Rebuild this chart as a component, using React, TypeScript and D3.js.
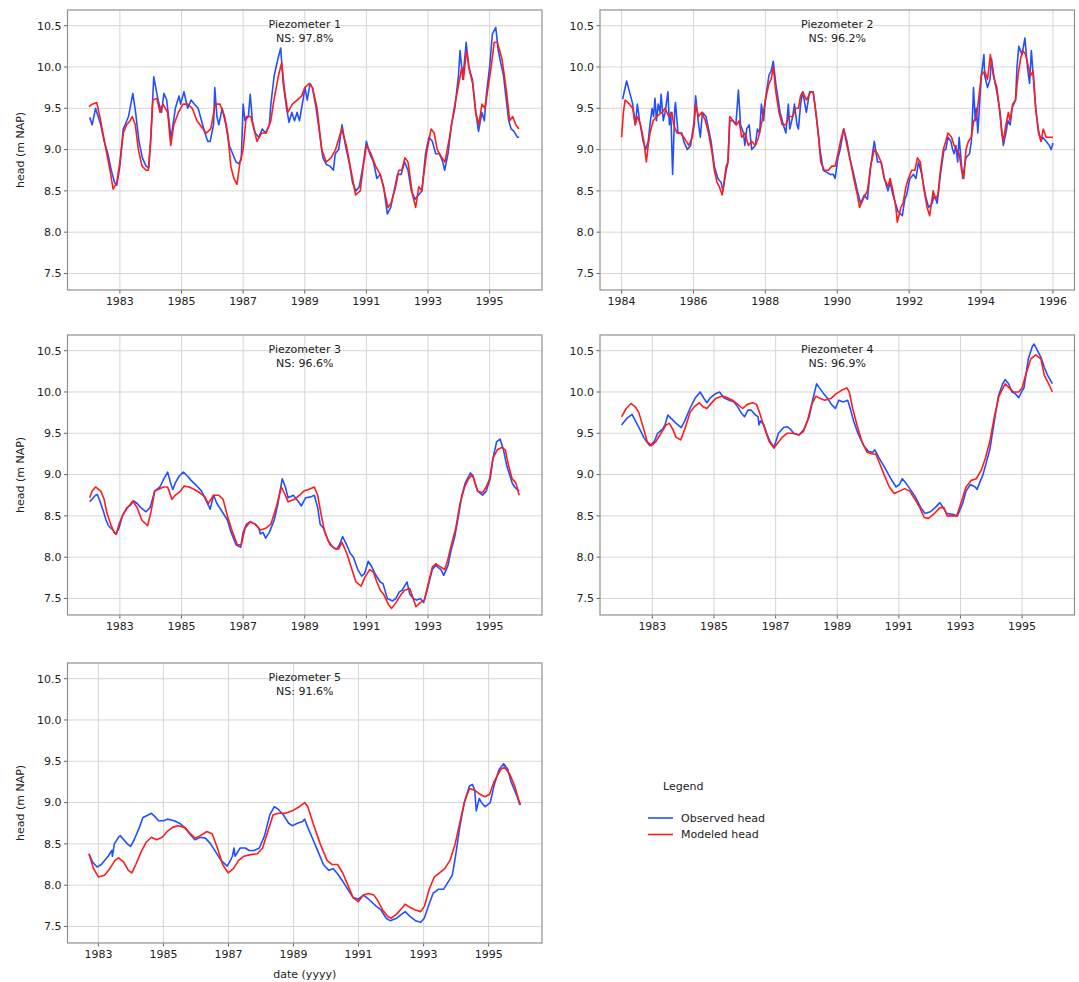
import React from "react";
import * as d3 from "d3";

type Pt = [number, number];

// Piezometer 1 (decimal year, head in m NAP)
const p1Observed: Pt[] = [
  [1982.02, 9.39], [1982.1, 9.3], [1982.21, 9.5], [1982.38, 9.3], [1982.49, 9.1], [1982.61, 8.95], [1982.72, 8.75],
  [1982.83, 8.6], [1982.9, 8.57], [1983.0, 8.8], [1983.11, 9.25], [1983.17, 9.3], [1983.28, 9.4], [1983.42, 9.68],
  [1983.51, 9.45], [1983.62, 9.1], [1983.73, 8.9], [1983.85, 8.8], [1983.94, 8.78], [1984.01, 9.2], [1984.1, 9.88],
  [1984.24, 9.6], [1984.35, 9.45], [1984.43, 9.68], [1984.52, 9.6], [1984.66, 9.13], [1984.8, 9.5], [1984.92, 9.65],
  [1984.97, 9.55], [1985.08, 9.7], [1985.2, 9.5], [1985.31, 9.6], [1985.42, 9.55], [1985.54, 9.5], [1985.65, 9.35],
  [1985.76, 9.2], [1985.85, 9.1], [1985.93, 9.1], [1986.04, 9.3], [1986.08, 9.75], [1986.15, 9.4], [1986.21, 9.3],
  [1986.32, 9.5], [1986.44, 9.3], [1986.55, 9.05], [1986.66, 8.95], [1986.77, 8.85], [1986.86, 8.83], [1986.94, 8.88],
  [1987.0, 9.55], [1987.06, 9.35], [1987.17, 9.4], [1987.23, 9.67], [1987.3, 9.35], [1987.39, 9.2], [1987.51, 9.15],
  [1987.62, 9.25], [1987.73, 9.2], [1987.85, 9.3], [1987.9, 9.55], [1988.01, 9.9], [1988.13, 10.1], [1988.22, 10.23],
  [1988.3, 9.8], [1988.41, 9.5], [1988.49, 9.33], [1988.58, 9.45], [1988.67, 9.35], [1988.75, 9.45], [1988.83, 9.35],
  [1988.92, 9.55], [1989.01, 9.75], [1989.08, 9.6], [1989.17, 9.8], [1989.25, 9.75], [1989.37, 9.5], [1989.48, 9.2],
  [1989.59, 8.9], [1989.7, 8.82], [1989.82, 8.8], [1989.93, 8.75], [1989.99, 8.95], [1990.1, 9.0], [1990.21, 9.3],
  [1990.32, 9.05], [1990.44, 8.85], [1990.55, 8.6], [1990.66, 8.5], [1990.77, 8.55], [1990.89, 8.8], [1991.0, 9.1],
  [1991.11, 8.95], [1991.23, 8.85], [1991.34, 8.65], [1991.45, 8.7], [1991.56, 8.55], [1991.68, 8.22], [1991.79, 8.3],
  [1991.9, 8.5], [1992.01, 8.7], [1992.13, 8.7], [1992.24, 8.85], [1992.35, 8.75], [1992.46, 8.5], [1992.58, 8.4],
  [1992.69, 8.45], [1992.8, 8.5], [1992.92, 8.95], [1993.03, 9.15], [1993.14, 9.1], [1993.25, 8.95], [1993.37, 8.95],
  [1993.48, 8.85], [1993.54, 8.75], [1993.65, 8.95], [1993.76, 9.3], [1993.87, 9.5], [1993.99, 9.9], [1994.04, 10.2],
  [1994.13, 9.85], [1994.24, 10.3], [1994.32, 10.0], [1994.44, 9.85], [1994.55, 9.45], [1994.64, 9.22], [1994.75, 9.45],
  [1994.83, 9.35], [1994.89, 9.65], [1995.0, 10.0], [1995.09, 10.4], [1995.2, 10.48], [1995.28, 10.2], [1995.36, 10.05],
  [1995.45, 9.9], [1995.54, 9.6], [1995.62, 9.35], [1995.7, 9.25], [1995.79, 9.22], [1995.9, 9.15], [1995.96, 9.15],
];
const p1Modeled: Pt[] = [
  [1982.0, 9.52], [1982.1, 9.55], [1982.25, 9.57], [1982.35, 9.4], [1982.45, 9.2], [1982.55, 9.0], [1982.68, 8.75],
  [1982.78, 8.52], [1982.9, 8.6], [1983.0, 8.85], [1983.11, 9.2], [1983.22, 9.3], [1983.33, 9.35], [1983.4, 9.4],
  [1983.5, 9.3], [1983.6, 9.0], [1983.72, 8.8], [1983.85, 8.75], [1983.92, 8.75], [1984.0, 9.1], [1984.07, 9.6],
  [1984.2, 9.62], [1984.3, 9.45], [1984.4, 9.55], [1984.55, 9.45], [1984.65, 9.05], [1984.75, 9.3], [1984.9, 9.45],
  [1985.05, 9.55], [1985.2, 9.55], [1985.35, 9.5], [1985.5, 9.35], [1985.6, 9.3], [1985.7, 9.25], [1985.8, 9.2],
  [1985.95, 9.25], [1986.1, 9.55], [1986.25, 9.55], [1986.4, 9.4], [1986.5, 9.2], [1986.6, 8.8], [1986.7, 8.65],
  [1986.8, 8.58], [1986.9, 8.85], [1987.0, 9.0], [1987.1, 9.4], [1987.25, 9.4], [1987.35, 9.25], [1987.45, 9.1],
  [1987.6, 9.2], [1987.75, 9.2], [1987.9, 9.35], [1988.0, 9.6], [1988.15, 9.9], [1988.25, 10.05], [1988.35, 9.7],
  [1988.45, 9.45], [1988.6, 9.55], [1988.75, 9.6], [1988.9, 9.65], [1989.0, 9.75], [1989.15, 9.8], [1989.25, 9.75],
  [1989.4, 9.5], [1989.55, 9.0], [1989.7, 8.85], [1989.85, 8.9], [1990.0, 9.0], [1990.2, 9.25], [1990.35, 9.05],
  [1990.5, 8.75], [1990.65, 8.45], [1990.8, 8.5], [1990.9, 8.8], [1991.0, 9.05], [1991.15, 8.95], [1991.3, 8.8],
  [1991.45, 8.7], [1991.55, 8.55], [1991.7, 8.3], [1991.8, 8.35], [1991.95, 8.55], [1992.05, 8.75], [1992.15, 8.75],
  [1992.25, 8.9], [1992.35, 8.85], [1992.5, 8.45], [1992.6, 8.3], [1992.7, 8.55], [1992.8, 8.5], [1992.95, 8.95],
  [1993.1, 9.25], [1993.2, 9.2], [1993.3, 9.0], [1993.45, 8.9], [1993.55, 8.85], [1993.7, 9.15], [1993.85, 9.5],
  [1994.0, 9.8], [1994.1, 10.0], [1994.15, 9.85], [1994.25, 10.2], [1994.35, 9.95], [1994.45, 9.8], [1994.55, 9.45],
  [1994.65, 9.3], [1994.75, 9.55], [1994.85, 9.5], [1994.95, 9.75], [1995.05, 10.0], [1995.15, 10.3], [1995.25, 10.3],
  [1995.4, 10.1], [1995.55, 9.7], [1995.65, 9.35], [1995.75, 9.4], [1995.85, 9.3], [1995.95, 9.25],
];

// Piezometer 2
const p2Observed: Pt[] = [
  [1984.03, 9.61], [1984.14, 9.83], [1984.25, 9.65], [1984.31, 9.55], [1984.38, 9.3], [1984.44, 9.55], [1984.5, 9.35],
  [1984.6, 9.1], [1984.67, 9.0], [1984.74, 9.1], [1984.79, 9.3], [1984.85, 9.5], [1984.89, 9.4], [1984.93, 9.62],
  [1984.97, 9.35], [1985.02, 9.55], [1985.07, 9.45], [1985.1, 9.67], [1985.16, 9.35], [1985.21, 9.45], [1985.29, 9.7],
  [1985.33, 9.3], [1985.37, 9.45], [1985.42, 8.7], [1985.48, 9.5], [1985.5, 9.57], [1985.57, 9.2], [1985.68, 9.2],
  [1985.73, 9.1], [1985.83, 9.0], [1985.92, 9.05], [1985.97, 9.2], [1986.02, 9.35], [1986.06, 9.65], [1986.13, 9.35],
  [1986.19, 9.15], [1986.25, 9.45], [1986.35, 9.4], [1986.49, 9.1], [1986.58, 8.8], [1986.68, 8.65], [1986.77, 8.6],
  [1986.82, 8.5], [1986.91, 8.75], [1986.96, 8.85], [1987.01, 9.35], [1987.1, 9.35], [1987.18, 9.3], [1987.25, 9.72],
  [1987.31, 9.3], [1987.39, 9.2], [1987.43, 9.05], [1987.48, 9.25], [1987.55, 9.3], [1987.62, 9.0], [1987.72, 9.05],
  [1987.78, 9.25], [1987.84, 9.2], [1987.89, 9.55], [1987.95, 9.35], [1988.0, 9.6], [1988.1, 9.9], [1988.16, 9.95],
  [1988.22, 10.07], [1988.29, 9.8], [1988.41, 9.45], [1988.5, 9.3], [1988.57, 9.2], [1988.64, 9.55], [1988.68, 9.25],
  [1988.76, 9.4], [1988.81, 9.55], [1988.88, 9.3], [1988.92, 9.25], [1988.98, 9.55], [1989.04, 9.7], [1989.14, 9.45],
  [1989.23, 9.7], [1989.33, 9.7], [1989.42, 9.4], [1989.52, 9.0], [1989.61, 8.75], [1989.8, 8.7], [1989.89, 8.7],
  [1989.94, 8.65], [1990.02, 8.9], [1990.08, 9.0], [1990.18, 9.25], [1990.27, 9.1], [1990.35, 8.9], [1990.46, 8.7],
  [1990.56, 8.5], [1990.65, 8.35], [1990.75, 8.45], [1990.84, 8.4], [1990.93, 8.8], [1991.03, 9.1], [1991.12, 8.85],
  [1991.22, 8.85], [1991.31, 8.65], [1991.41, 8.5], [1991.47, 8.6], [1991.55, 8.45], [1991.69, 8.25], [1991.81, 8.2],
  [1991.88, 8.4], [1991.93, 8.45], [1992.02, 8.65], [1992.12, 8.7], [1992.19, 8.65], [1992.26, 8.85], [1992.35, 8.7],
  [1992.45, 8.45], [1992.54, 8.3], [1992.64, 8.35], [1992.7, 8.45], [1992.78, 8.35], [1992.87, 8.7], [1992.97, 9.0],
  [1993.02, 9.0], [1993.08, 9.15], [1993.16, 9.1], [1993.21, 9.0], [1993.25, 8.95], [1993.3, 9.05], [1993.35, 8.85],
  [1993.39, 9.15], [1993.49, 8.65], [1993.58, 8.9], [1993.68, 8.95], [1993.73, 9.1], [1993.77, 9.5], [1993.79, 9.75],
  [1993.84, 9.35], [1993.87, 9.5], [1993.91, 9.2], [1993.98, 9.7], [1994.01, 9.9], [1994.08, 10.15], [1994.1, 9.9],
  [1994.18, 9.75], [1994.25, 9.85], [1994.29, 10.1], [1994.37, 9.85], [1994.44, 9.7], [1994.53, 9.45], [1994.58, 9.2],
  [1994.62, 9.05], [1994.69, 9.2], [1994.75, 9.35], [1994.81, 9.3], [1994.86, 9.5], [1994.96, 9.6], [1995.0, 10.0],
  [1995.05, 10.25], [1995.14, 10.15], [1995.22, 10.35], [1995.29, 10.0], [1995.35, 9.8], [1995.4, 10.2], [1995.45, 9.9],
  [1995.52, 9.5], [1995.59, 9.25], [1995.67, 9.1], [1995.71, 9.15], [1995.81, 9.1], [1995.9, 9.05], [1995.95, 9.0],
  [1996.0, 9.08],
];
const p2Modeled: Pt[] = [
  [1984.0, 9.15], [1984.05, 9.45], [1984.1, 9.6], [1984.22, 9.55], [1984.31, 9.5], [1984.38, 9.3], [1984.44, 9.4],
  [1984.53, 9.3], [1984.62, 9.1], [1984.69, 8.85], [1984.74, 9.05], [1984.79, 9.2], [1984.88, 9.35], [1984.97, 9.4],
  [1985.12, 9.45], [1985.21, 9.5], [1985.31, 9.4], [1985.4, 9.45], [1985.45, 9.3], [1985.54, 9.2], [1985.64, 9.2],
  [1985.73, 9.15], [1985.87, 9.05], [1985.97, 9.15], [1986.02, 9.3], [1986.06, 9.55], [1986.14, 9.4], [1986.23, 9.45],
  [1986.33, 9.35], [1986.42, 9.2], [1986.52, 8.95], [1986.58, 8.75], [1986.66, 8.6], [1986.72, 8.55], [1986.8, 8.45],
  [1986.91, 8.8], [1986.96, 8.85], [1987.01, 9.4], [1987.1, 9.35], [1987.2, 9.3], [1987.27, 9.35], [1987.34, 9.15],
  [1987.43, 9.2], [1987.53, 9.05], [1987.62, 9.1], [1987.72, 9.05], [1987.81, 9.15], [1987.91, 9.35], [1988.0, 9.6],
  [1988.1, 9.8], [1988.16, 9.85], [1988.22, 10.0], [1988.29, 9.7], [1988.38, 9.45], [1988.47, 9.3], [1988.57, 9.3],
  [1988.66, 9.4], [1988.76, 9.4], [1988.85, 9.5], [1988.92, 9.5], [1988.98, 9.65], [1989.04, 9.7], [1989.14, 9.6],
  [1989.26, 9.7], [1989.33, 9.7], [1989.39, 9.5], [1989.47, 9.2], [1989.54, 8.85], [1989.64, 8.75], [1989.75, 8.75],
  [1989.85, 8.8], [1989.94, 8.8], [1990.02, 8.95], [1990.09, 9.1], [1990.18, 9.25], [1990.27, 9.05], [1990.37, 8.85],
  [1990.46, 8.65], [1990.56, 8.45], [1990.62, 8.3], [1990.72, 8.4], [1990.84, 8.5], [1990.93, 8.8], [1991.03, 9.0],
  [1991.12, 8.95], [1991.22, 8.85], [1991.31, 8.65], [1991.41, 8.55], [1991.47, 8.65], [1991.55, 8.5], [1991.63, 8.3],
  [1991.67, 8.12], [1991.77, 8.3], [1991.83, 8.35], [1991.91, 8.55], [1991.98, 8.65], [1992.07, 8.75], [1992.16, 8.75],
  [1992.23, 8.9], [1992.31, 8.85], [1992.4, 8.55], [1992.5, 8.3], [1992.57, 8.2], [1992.67, 8.5], [1992.73, 8.4],
  [1992.8, 8.45], [1992.87, 8.75], [1992.95, 9.0], [1993.02, 9.1], [1993.08, 9.2], [1993.18, 9.15], [1993.25, 9.05],
  [1993.33, 9.0], [1993.39, 8.95], [1993.46, 8.75], [1993.52, 8.65], [1993.58, 9.0], [1993.65, 9.1], [1993.73, 9.15],
  [1993.8, 9.35], [1993.87, 9.4], [1993.93, 9.6], [1994.01, 9.9], [1994.1, 9.95], [1994.18, 9.85], [1994.26, 10.15],
  [1994.34, 9.9], [1994.44, 9.75], [1994.51, 9.5], [1994.58, 9.2], [1994.62, 9.1], [1994.69, 9.3], [1994.76, 9.45],
  [1994.81, 9.35], [1994.88, 9.55], [1994.96, 9.6], [1995.03, 9.9], [1995.1, 10.1], [1995.16, 10.2], [1995.24, 10.15],
  [1995.32, 10.0], [1995.38, 9.9], [1995.45, 9.95], [1995.52, 9.5], [1995.6, 9.2], [1995.67, 9.1], [1995.73, 9.25],
  [1995.81, 9.15], [1995.88, 9.15], [1996.0, 9.15],
];

// Piezometer 3
const p3Observed: Pt[] = [
  [1982.02, 8.67], [1982.21, 8.75], [1982.27, 8.76], [1982.38, 8.65], [1982.47, 8.55], [1982.55, 8.45], [1982.63, 8.38],
  [1982.77, 8.33], [1982.86, 8.28], [1982.97, 8.35], [1983.08, 8.5], [1983.23, 8.6], [1983.34, 8.63], [1983.45, 8.68],
  [1983.56, 8.65], [1983.68, 8.6], [1983.85, 8.55], [1983.98, 8.6], [1984.13, 8.8], [1984.3, 8.85], [1984.43, 8.95],
  [1984.55, 9.03], [1984.66, 8.88], [1984.72, 8.82], [1984.8, 8.9], [1984.92, 8.98], [1985.06, 9.03], [1985.2, 8.98],
  [1985.31, 8.93], [1985.48, 8.87], [1985.65, 8.8], [1985.78, 8.7], [1985.93, 8.58], [1986.04, 8.75], [1986.15, 8.65],
  [1986.32, 8.55], [1986.49, 8.45], [1986.61, 8.3], [1986.77, 8.15], [1986.92, 8.12], [1987.0, 8.3], [1987.11, 8.4],
  [1987.23, 8.43], [1987.39, 8.4], [1987.51, 8.35], [1987.56, 8.28], [1987.65, 8.3], [1987.73, 8.23], [1987.85, 8.3],
  [1988.01, 8.45], [1988.13, 8.65], [1988.27, 8.95], [1988.37, 8.85], [1988.46, 8.72], [1988.63, 8.75], [1988.78, 8.68],
  [1988.89, 8.62], [1989.03, 8.72], [1989.2, 8.73], [1989.31, 8.75], [1989.42, 8.6], [1989.5, 8.4], [1989.61, 8.35],
  [1989.76, 8.2], [1989.91, 8.12], [1990.04, 8.1], [1990.13, 8.15], [1990.23, 8.25], [1990.36, 8.15], [1990.47, 8.05],
  [1990.58, 8.0], [1990.72, 7.85], [1990.85, 7.77], [1990.94, 7.8], [1991.06, 7.95], [1991.15, 7.9], [1991.28, 7.8],
  [1991.45, 7.7], [1991.54, 7.68], [1991.68, 7.5], [1991.85, 7.47], [1991.96, 7.5], [1992.07, 7.58], [1992.16, 7.6],
  [1992.32, 7.7], [1992.41, 7.55], [1992.52, 7.5], [1992.63, 7.48], [1992.75, 7.5], [1992.86, 7.45], [1992.97, 7.6],
  [1993.14, 7.85], [1993.25, 7.9], [1993.42, 7.85], [1993.51, 7.78], [1993.65, 7.9], [1993.76, 8.1], [1993.87, 8.25],
  [1993.99, 8.5], [1994.1, 8.75], [1994.21, 8.9], [1994.38, 9.02], [1994.46, 8.98], [1994.61, 8.8], [1994.77, 8.75],
  [1994.89, 8.8], [1995.02, 8.95], [1995.11, 9.2], [1995.23, 9.4], [1995.34, 9.43], [1995.45, 9.3], [1995.56, 9.1],
  [1995.73, 8.9], [1995.81, 8.85], [1995.96, 8.8],
];
const p3Modeled: Pt[] = [
  [1982.02, 8.72], [1982.1, 8.8], [1982.21, 8.85], [1982.38, 8.8], [1982.49, 8.7], [1982.57, 8.55], [1982.7, 8.4],
  [1982.81, 8.3], [1982.89, 8.28], [1982.97, 8.4], [1983.11, 8.52], [1983.25, 8.6], [1983.42, 8.68], [1983.56, 8.6],
  [1983.71, 8.45], [1983.9, 8.38], [1984.01, 8.55], [1984.13, 8.8], [1984.24, 8.82], [1984.41, 8.85], [1984.55, 8.85],
  [1984.69, 8.7], [1984.8, 8.75], [1984.97, 8.8], [1985.08, 8.86], [1985.25, 8.85], [1985.42, 8.82], [1985.59, 8.78],
  [1985.76, 8.73], [1985.87, 8.65], [1986.04, 8.75], [1986.21, 8.75], [1986.35, 8.7], [1986.49, 8.5], [1986.66, 8.3],
  [1986.81, 8.15], [1986.94, 8.15], [1987.06, 8.35], [1987.23, 8.43], [1987.39, 8.4], [1987.56, 8.33], [1987.73, 8.35],
  [1987.9, 8.4], [1988.07, 8.6], [1988.24, 8.85], [1988.37, 8.75], [1988.46, 8.67], [1988.67, 8.7], [1988.83, 8.75],
  [1988.97, 8.8], [1989.12, 8.82], [1989.31, 8.85], [1989.42, 8.75], [1989.54, 8.5], [1989.65, 8.3], [1989.82, 8.15],
  [1989.99, 8.1], [1990.1, 8.1], [1990.21, 8.18], [1990.36, 8.05], [1990.49, 7.9], [1990.66, 7.7], [1990.83, 7.65],
  [1990.94, 7.75], [1991.11, 7.85], [1991.23, 7.82], [1991.34, 7.7], [1991.45, 7.6], [1991.56, 7.55], [1991.73, 7.42],
  [1991.82, 7.38], [1991.96, 7.45], [1992.13, 7.55], [1992.24, 7.6], [1992.41, 7.62], [1992.52, 7.5], [1992.61, 7.4],
  [1992.75, 7.45], [1992.88, 7.48], [1992.99, 7.65], [1993.14, 7.88], [1993.25, 7.92], [1993.42, 7.88], [1993.54, 7.85],
  [1993.63, 7.95], [1993.76, 8.15], [1993.9, 8.35], [1994.04, 8.65], [1994.19, 8.85], [1994.32, 8.95], [1994.44, 9.0],
  [1994.61, 8.8], [1994.77, 8.78], [1994.89, 8.85], [1995.0, 8.95], [1995.11, 9.2], [1995.25, 9.3], [1995.39, 9.33],
  [1995.51, 9.3], [1995.62, 9.1], [1995.73, 8.95], [1995.85, 8.9], [1995.96, 8.75],
];

// Piezometer 4
const p4Observed: Pt[] = [
  [1982.0, 9.6], [1982.17, 9.68], [1982.34, 9.73], [1982.45, 9.65], [1982.59, 9.55], [1982.72, 9.45], [1982.81, 9.4],
  [1982.92, 9.35], [1983.06, 9.4], [1983.17, 9.5], [1983.33, 9.55], [1983.41, 9.6], [1983.5, 9.72], [1983.61, 9.68],
  [1983.77, 9.62], [1983.94, 9.57], [1984.05, 9.65], [1984.22, 9.8], [1984.38, 9.92], [1984.55, 10.0], [1984.66, 9.93],
  [1984.77, 9.87], [1984.88, 9.93], [1985.05, 9.98], [1985.18, 10.0], [1985.32, 9.93], [1985.49, 9.9], [1985.65, 9.88],
  [1985.77, 9.82], [1985.88, 9.75], [1985.99, 9.7], [1986.1, 9.78], [1986.21, 9.78], [1986.35, 9.72], [1986.43, 9.7],
  [1986.46, 9.6], [1986.51, 9.65], [1986.62, 9.6], [1986.71, 9.5], [1986.82, 9.4], [1986.95, 9.33], [1987.09, 9.5],
  [1987.26, 9.57], [1987.37, 9.58], [1987.48, 9.55], [1987.59, 9.5], [1987.76, 9.48], [1987.92, 9.55], [1988.09, 9.7],
  [1988.2, 9.9], [1988.33, 10.1], [1988.42, 10.05], [1988.56, 9.98], [1988.67, 9.93], [1988.81, 9.85], [1988.94, 9.8],
  [1989.05, 9.9], [1989.19, 9.88], [1989.34, 9.9], [1989.42, 9.8], [1989.53, 9.65], [1989.67, 9.5], [1989.86, 9.35],
  [1990.02, 9.28], [1990.16, 9.27], [1990.22, 9.3], [1990.36, 9.2], [1990.52, 9.1], [1990.74, 8.95], [1990.91, 8.85],
  [1991.02, 8.88], [1991.11, 8.95], [1991.22, 8.9], [1991.41, 8.8], [1991.55, 8.72], [1991.71, 8.6], [1991.85, 8.53],
  [1992.02, 8.55], [1992.18, 8.6], [1992.33, 8.66], [1992.44, 8.6], [1992.55, 8.53], [1992.73, 8.52], [1992.9, 8.5],
  [1993.07, 8.65], [1993.18, 8.8], [1993.32, 8.88], [1993.48, 8.85], [1993.54, 8.82], [1993.62, 8.9], [1993.73, 9.0],
  [1993.95, 9.3], [1994.1, 9.65], [1994.23, 9.95], [1994.37, 10.1], [1994.45, 10.15], [1994.56, 10.1], [1994.67, 10.0],
  [1994.78, 9.98], [1994.89, 9.93], [1994.98, 10.0], [1995.06, 10.05], [1995.2, 10.4], [1995.33, 10.55], [1995.39, 10.58],
  [1995.5, 10.5], [1995.61, 10.42], [1995.72, 10.3], [1995.83, 10.2], [1995.98, 10.1],
];
const p4Modeled: Pt[] = [
  [1982.0, 9.7], [1982.15, 9.8], [1982.31, 9.86], [1982.45, 9.82], [1982.56, 9.75], [1982.72, 9.55], [1982.83, 9.4],
  [1982.97, 9.35], [1983.11, 9.4], [1983.28, 9.5], [1983.44, 9.6], [1983.55, 9.62], [1983.66, 9.55], [1983.77, 9.45],
  [1983.92, 9.42], [1984.05, 9.55], [1984.22, 9.75], [1984.38, 9.83], [1984.53, 9.87], [1984.64, 9.82], [1984.77, 9.8],
  [1984.88, 9.85], [1985.05, 9.92], [1985.27, 9.95], [1985.43, 9.93], [1985.6, 9.9], [1985.77, 9.85], [1985.93, 9.8],
  [1986.08, 9.85], [1986.26, 9.87], [1986.38, 9.85], [1986.48, 9.75], [1986.65, 9.55], [1986.79, 9.4], [1986.95, 9.32],
  [1987.06, 9.38], [1987.21, 9.45], [1987.37, 9.5], [1987.54, 9.5], [1987.76, 9.48], [1987.9, 9.52], [1988.03, 9.65],
  [1988.17, 9.85], [1988.31, 9.95], [1988.45, 9.92], [1988.59, 9.9], [1988.79, 9.92], [1988.97, 9.98], [1989.14, 10.02],
  [1989.31, 10.05], [1989.39, 10.0], [1989.5, 9.8], [1989.64, 9.6], [1989.8, 9.4], [1989.97, 9.27], [1990.14, 9.25],
  [1990.25, 9.25], [1990.36, 9.15], [1990.52, 9.0], [1990.69, 8.85], [1990.85, 8.77], [1991.02, 8.8], [1991.19, 8.83],
  [1991.35, 8.8], [1991.52, 8.7], [1991.68, 8.6], [1991.82, 8.48], [1991.96, 8.47], [1992.13, 8.52], [1992.33, 8.6],
  [1992.46, 8.6], [1992.57, 8.5], [1992.73, 8.5], [1992.88, 8.5], [1993.01, 8.65], [1993.18, 8.85], [1993.35, 8.93],
  [1993.51, 8.95], [1993.67, 9.05], [1993.81, 9.2], [1993.95, 9.4], [1994.1, 9.7], [1994.25, 9.95], [1994.45, 10.1],
  [1994.58, 10.05], [1994.73, 10.0], [1994.89, 10.0], [1995.0, 10.05], [1995.11, 10.2], [1995.28, 10.4], [1995.44, 10.45],
  [1995.61, 10.4], [1995.72, 10.2], [1995.86, 10.1], [1995.98, 10.0],
];

// Piezometer 5
const p5Observed: Pt[] = [
  [1982.71, 8.38], [1982.82, 8.28], [1982.96, 8.22], [1983.09, 8.25], [1983.19, 8.3], [1983.3, 8.35], [1983.41, 8.42],
  [1983.43, 8.35], [1983.49, 8.5], [1983.62, 8.58], [1983.67, 8.6], [1983.78, 8.55], [1983.89, 8.5], [1983.99, 8.47],
  [1984.1, 8.55], [1984.26, 8.7], [1984.37, 8.82], [1984.53, 8.85], [1984.63, 8.87], [1984.74, 8.83], [1984.85, 8.78],
  [1985.01, 8.78], [1985.12, 8.8], [1985.33, 8.78], [1985.49, 8.75], [1985.65, 8.7], [1985.81, 8.62], [1985.97, 8.55],
  [1986.13, 8.58], [1986.29, 8.57], [1986.45, 8.5], [1986.61, 8.4], [1986.77, 8.3], [1986.96, 8.23], [1987.06, 8.3],
  [1987.12, 8.35], [1987.17, 8.45], [1987.2, 8.35], [1987.36, 8.45], [1987.52, 8.45], [1987.63, 8.42], [1987.79, 8.42],
  [1987.95, 8.45], [1988.11, 8.6], [1988.27, 8.85], [1988.41, 8.95], [1988.53, 8.92], [1988.69, 8.85], [1988.85, 8.75],
  [1988.96, 8.72], [1989.12, 8.75], [1989.28, 8.77], [1989.34, 8.8], [1989.44, 8.7], [1989.6, 8.55], [1989.76, 8.4],
  [1989.92, 8.25], [1990.08, 8.18], [1990.22, 8.2], [1990.33, 8.15], [1990.51, 8.05], [1990.67, 7.95], [1990.83, 7.85],
  [1990.99, 7.83], [1991.15, 7.88], [1991.31, 7.83], [1991.53, 7.75], [1991.69, 7.7], [1991.85, 7.6], [1991.97, 7.57],
  [1992.17, 7.6], [1992.33, 7.65], [1992.43, 7.68], [1992.59, 7.62], [1992.75, 7.57], [1992.91, 7.55], [1993.02, 7.6],
  [1993.15, 7.75], [1993.29, 7.9], [1993.45, 7.95], [1993.61, 7.95], [1993.77, 8.05], [1993.88, 8.12], [1993.98, 8.35],
  [1994.11, 8.7], [1994.25, 9.0], [1994.41, 9.2], [1994.5, 9.22], [1994.57, 9.15], [1994.62, 8.9], [1994.71, 9.05],
  [1994.78, 9.0], [1994.89, 8.95], [1995.05, 9.0], [1995.16, 9.2], [1995.32, 9.4], [1995.46, 9.47], [1995.59, 9.4],
  [1995.69, 9.25], [1995.85, 9.1], [1995.96, 8.97],
];
const p5Modeled: Pt[] = [
  [1982.71, 8.38], [1982.85, 8.2], [1983.0, 8.1], [1983.19, 8.12], [1983.35, 8.2], [1983.51, 8.3], [1983.62, 8.33],
  [1983.78, 8.28], [1983.92, 8.18], [1984.03, 8.15], [1984.15, 8.25], [1984.31, 8.4], [1984.47, 8.52], [1984.63, 8.58],
  [1984.79, 8.55], [1984.96, 8.58], [1985.12, 8.65], [1985.28, 8.7], [1985.44, 8.72], [1985.65, 8.7], [1985.81, 8.63],
  [1985.97, 8.57], [1986.13, 8.6], [1986.34, 8.65], [1986.5, 8.62], [1986.66, 8.45], [1986.82, 8.25], [1986.99, 8.15],
  [1987.15, 8.2], [1987.31, 8.3], [1987.47, 8.35], [1987.68, 8.37], [1987.89, 8.38], [1988.05, 8.45], [1988.21, 8.65],
  [1988.37, 8.85], [1988.53, 8.87], [1988.75, 8.87], [1988.96, 8.9], [1989.18, 8.95], [1989.34, 9.0], [1989.44, 8.95],
  [1989.6, 8.75], [1989.82, 8.5], [1990.03, 8.3], [1990.19, 8.25], [1990.35, 8.25], [1990.51, 8.15], [1990.67, 8.0],
  [1990.83, 7.85], [1990.99, 7.8], [1991.15, 7.88], [1991.31, 7.9], [1991.47, 7.88], [1991.58, 7.82], [1991.74, 7.7],
  [1991.9, 7.62], [1992.01, 7.6], [1992.17, 7.65], [1992.33, 7.72], [1992.43, 7.77], [1992.59, 7.73], [1992.75, 7.7],
  [1992.91, 7.68], [1993.03, 7.75], [1993.17, 7.95], [1993.33, 8.1], [1993.49, 8.15], [1993.65, 8.2], [1993.81, 8.3],
  [1993.97, 8.5], [1994.11, 8.75], [1994.25, 9.0], [1994.41, 9.17], [1994.57, 9.15], [1994.73, 9.1], [1994.89, 9.07],
  [1995.03, 9.1], [1995.16, 9.25], [1995.37, 9.4], [1995.48, 9.43], [1995.64, 9.35], [1995.8, 9.2], [1995.91, 9.05],
  [1995.98, 8.97],
];

const panelTitles = ["Piezometer 1", "Piezometer 2", "Piezometer 3", "Piezometer 4", "Piezometer 5"];
const nsScores = ["NS: 97.8%", "NS: 96.2%", "NS: 96.6%", "NS: 96.9%", "NS: 91.6%"];
const headTicks = [7.5, 8.0, 8.5, 9.0, 9.5, 10.0, 10.5];
const oddYearTicks = [1983, 1985, 1987, 1989, 1991, 1993, 1995];
const evenYearTicks = [1984, 1986, 1988, 1990, 1992, 1994, 1996];
const headDomain: [number, number] = [7.3, 10.69];
const legendTitle = "Legend";
const seriesLabels = ["Observed head", "Modeled head"];

const OBS_COLOR = "#2250ff";
const MOD_COLOR = "#ff1c1c";
const FONT = "'DejaVu Sans', sans-serif";
const TEXT = "#222";
const FS = 11;

type PanelProps = {
  left: number;
  top: number;
  width: number;
  height: number;
  xDomain: [number, number];
  xTicks: number[];
  observed: Pt[];
  modeled: Pt[];
  title: string;
  ns: string;
  yLabel: boolean;
  xLabel: boolean;
};

function Panel(p: PanelProps) {
  const x = d3.scaleLinear().domain(p.xDomain).range([p.left, p.left + p.width]);
  const y = d3.scaleLinear().domain(headDomain).range([p.top + p.height, p.top]);
  const line = d3
    .line<Pt>()
    .x((d) => x(d[0]))
    .y((d) => y(d[1]));
  const cx = p.left + p.width / 2;
  const bottom = p.top + p.height;
  return (
    <g>
      <rect x={p.left} y={p.top} width={p.width} height={p.height} fill="#fff" />
      {headTicks.map((t) => (
        <g key={"y" + t}>
          <line x1={p.left} x2={p.left + p.width} y1={y(t)} y2={y(t)} stroke="#d6d6d6" strokeWidth={1} />
          <line x1={p.left - 3.5} x2={p.left} y1={y(t)} y2={y(t)} stroke="#555" strokeWidth={0.9} />
          <text x={p.left - 6} y={y(t)} dy="0.35em" textAnchor="end" fontSize={FS} fill={TEXT} fontFamily={FONT}>
            {t.toFixed(1)}
          </text>
        </g>
      ))}
      {p.xTicks.map((t) => (
        <g key={"x" + t}>
          <line x1={x(t)} x2={x(t)} y1={p.top} y2={bottom} stroke="#d6d6d6" strokeWidth={1} />
          <line x1={x(t)} x2={x(t)} y1={bottom} y2={bottom + 3.5} stroke="#555" strokeWidth={0.9} />
          <text x={x(t)} y={bottom + 14.5} textAnchor="middle" fontSize={FS} fill={TEXT} fontFamily={FONT}>
            {t}
          </text>
        </g>
      ))}
      <path d={line(p.observed) || ""} fill="none" stroke={OBS_COLOR} strokeWidth={1.6} strokeLinejoin="round" />
      <path d={line(p.modeled) || ""} fill="none" stroke={MOD_COLOR} strokeWidth={1.6} strokeLinejoin="round" />
      <rect x={p.left} y={p.top} width={p.width} height={p.height} fill="none" stroke="#8f8f8f" strokeWidth={1.2} />
      <text x={cx} y={p.top + 18} textAnchor="middle" fontSize={FS} fill={TEXT} fontFamily={FONT}>
        {p.title}
      </text>
      <text x={cx} y={p.top + 31.5} textAnchor="middle" fontSize={FS} fill={TEXT} fontFamily={FONT}>
        {p.ns}
      </text>
      {p.yLabel && (
        <text
          transform={`translate(${p.left - 47},${p.top + p.height / 2}) rotate(-90)`}
          textAnchor="middle"
          dy="0.35em"
          fontSize={FS}
          fill={TEXT}
          fontFamily={FONT}
        >
          head (m NAP)
        </text>
      )}
      {p.xLabel && (
        <text x={cx} y={bottom + 35} textAnchor="middle" fontSize={FS} fill={TEXT} fontFamily={FONT}>
          date (yyyy)
        </text>
      )}
    </g>
  );
}

export default function App() {
  const W = 474.5;
  const H = 280;
  const colL = 67.5;
  const colR = 600;
  const rows = [10, 335, 663];
  const fullSpan: [number, number] = [1981.3, 1996.7];
  return (
    <svg
      width={1079}
      height={982}
      style={{ position: "absolute", left: 0, top: 0, background: "#fff" }}
    >
      <rect x={0} y={0} width={1079} height={982} fill="#fff" />
      <Panel left={colL} top={rows[0]} width={W} height={H} xDomain={fullSpan} xTicks={oddYearTicks}
        observed={p1Observed} modeled={p1Modeled} title={panelTitles[0]} ns={nsScores[0]} yLabel xLabel={false} />
      <Panel left={colR} top={rows[0]} width={W} height={H} xDomain={[1983.4, 1996.6]} xTicks={evenYearTicks}
        observed={p2Observed} modeled={p2Modeled} title={panelTitles[1]} ns={nsScores[1]} yLabel={false} xLabel={false} />
      <Panel left={colL} top={rows[1]} width={W} height={H} xDomain={fullSpan} xTicks={oddYearTicks}
        observed={p3Observed} modeled={p3Modeled} title={panelTitles[2]} ns={nsScores[2]} yLabel xLabel={false} />
      <Panel left={colR} top={rows[1]} width={W} height={H} xDomain={fullSpan} xTicks={oddYearTicks}
        observed={p4Observed} modeled={p4Modeled} title={panelTitles[3]} ns={nsScores[3]} yLabel={false} xLabel={false} />
      <Panel left={colL} top={rows[2]} width={W} height={H} xDomain={[1982.05, 1996.64]} xTicks={oddYearTicks}
        observed={p5Observed} modeled={p5Modeled} title={panelTitles[4]} ns={nsScores[4]} yLabel xLabel />
      <g fontFamily={FONT} fontSize={FS} fill={TEXT}>
        <text x={663} y={790}>{legendTitle}</text>
        <line x1={648} x2={673} y1={818} y2={818} stroke={OBS_COLOR} strokeWidth={1.6} />
        <text x={681} y={818} dy="0.35em">{seriesLabels[0]}</text>
        <line x1={648} x2={673} y1={834.5} y2={834.5} stroke={MOD_COLOR} strokeWidth={1.6} />
        <text x={681} y={834.5} dy="0.35em">{seriesLabels[1]}</text>
      </g>
    </svg>
  );
}
